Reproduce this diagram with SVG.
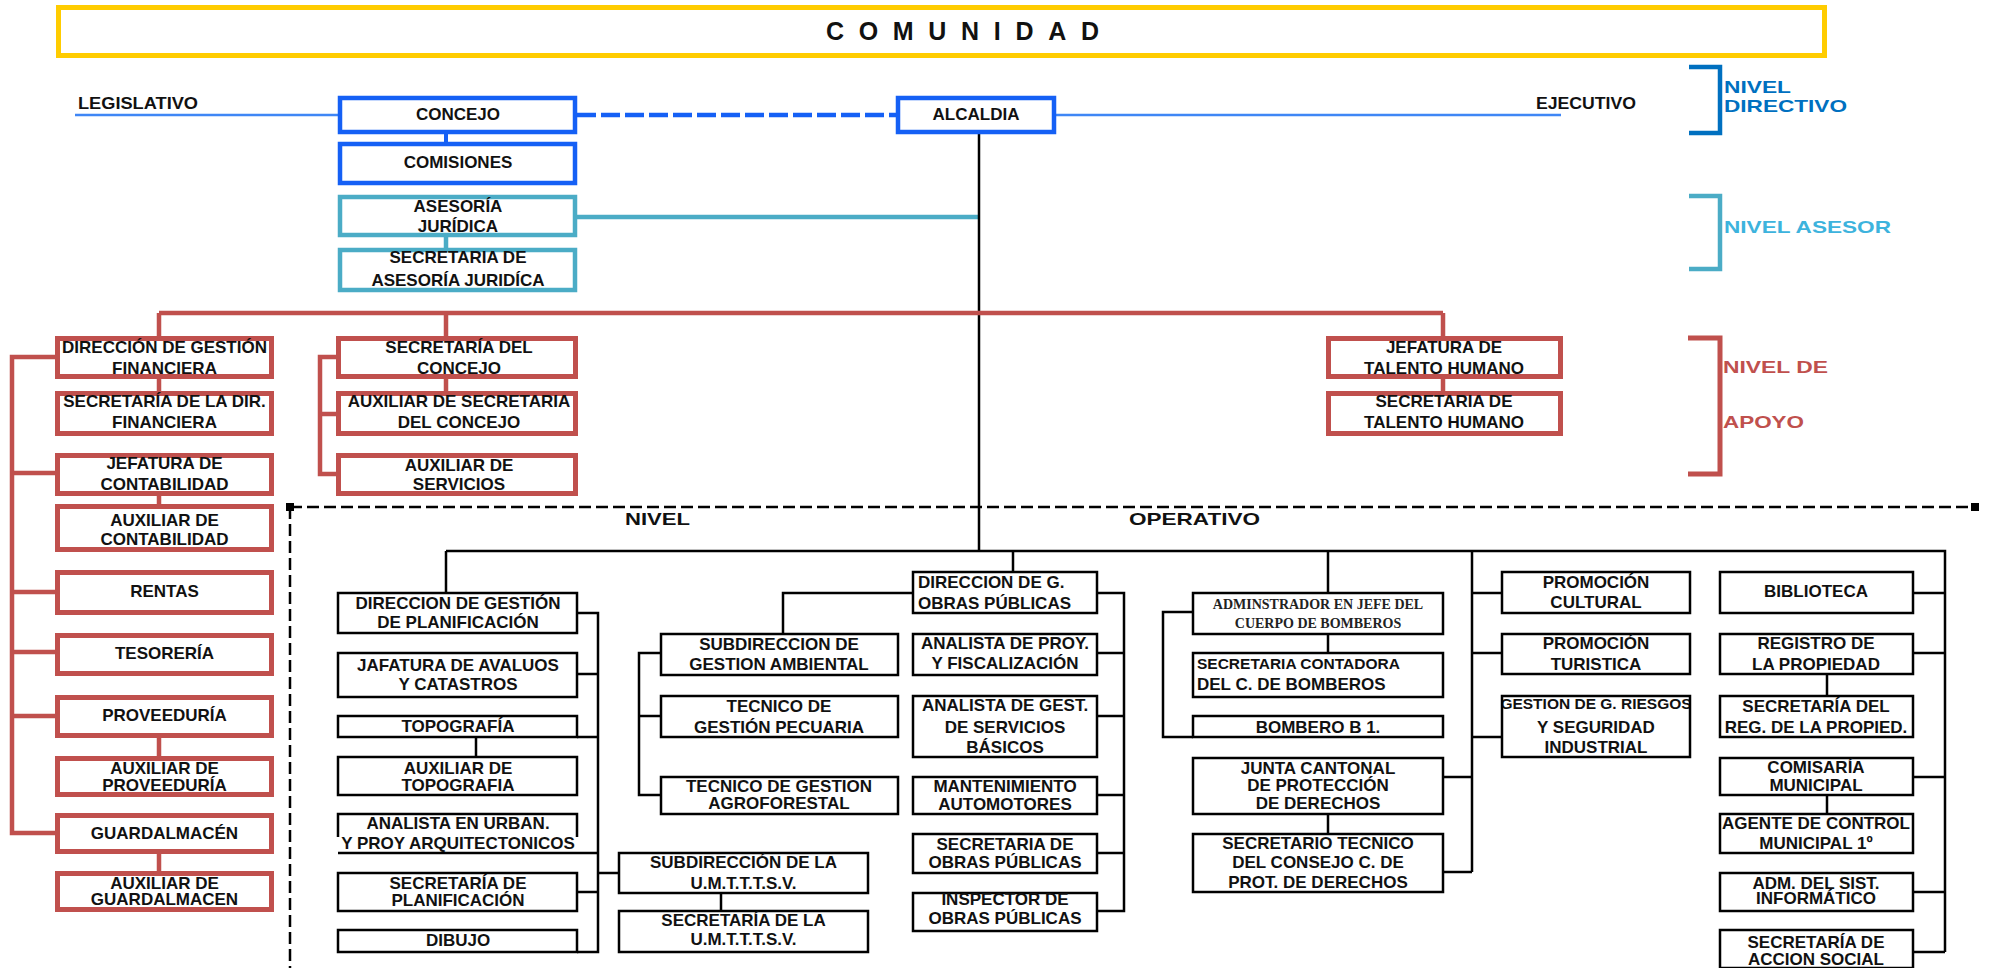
<svg xmlns="http://www.w3.org/2000/svg" width="2000" height="968" viewBox="0 0 2000 968">
<style>
.t{font-family:"Liberation Sans",Arial,sans-serif;font-weight:bold;font-size:17px;fill:#111;text-anchor:middle}
.ts{font-family:"Liberation Serif","Times New Roman",serif;font-weight:bold;font-size:14px;fill:#222;text-anchor:middle}
.st{text-anchor:start}
.bl{fill:#fff;stroke:#1560F5;stroke-width:4.5}
.tl{fill:#fff;stroke:#4BACC6;stroke-width:4.5}
.rb{fill:#fff;stroke:#C0504D;stroke-width:5}
.bb{fill:#fff;stroke:#000;stroke-width:2.5}
.cr{stroke:#C0504D;stroke-width:4.5;fill:none}
.ck{stroke:#000;stroke-width:2.5;fill:none}
.lv{font-family:"Liberation Sans",Arial,sans-serif;font-weight:bold;font-size:17px}
</style>
<defs>
<clipPath id="clipRiesgo"><rect x="1503" y="697" width="186" height="59"/></clipPath>
</defs>
<rect width="2000" height="968" fill="#fff"/>

<g id="comunidad">
<rect x="58.5" y="7.5" width="1766" height="48" fill="#fff" stroke="#FFCC00" stroke-width="5"/>
<text x="826" y="40" class="t st" style="font-size:25px" textLength="273" lengthAdjust="spacing">COMUNIDAD</text>
</g>

<g id="connectors">
<path d="M75,115 H338 M1056,115 H1561" stroke="#3F86F5" stroke-width="2.5" fill="none"/>
<path d="M577,115 H896" stroke="#1560F5" stroke-width="4.5" stroke-dasharray="19,5" fill="none"/>
<path d="M446,134 V142" stroke="#1560F5" stroke-width="4" fill="none"/>
<path d="M446,237 V248 M577,217 H979" stroke="#4BACC6" stroke-width="4.5" fill="none"/>
<path d="M979,134 V551" class="ck" stroke-width="2"/>
<path class="cr" d="M159,313 H1443 M159,313 V336 M446,313 V336 M1443,313 V336 M159,379 V391 M159,496 V504 M159,738 V756 M159,854 V871 M57,357 H12 V833 H57 M12,473 H57 M12,592 H57 M12,652 H57 M12,716 H57 M446,379 V391 M336,357 H320 V474 H336 M320,414 H336 M1443,379 V391"/>
<path d="M290,507 H1975 M290,507 V968" stroke="#000" stroke-width="2.5" stroke-dasharray="12,5" fill="none"/>
<rect x="286" y="503" width="8" height="8" fill="#000"/>
<rect x="1971" y="503" width="8" height="8" fill="#000"/>
<path class="ck" d="M446,551 H1945 V952 M446,551 V593 M1013,551 V572 M1328,551 V593 M1472,551 V872 M577,613 H598 V952 H577 M577,674 H598 M577,737 H598 M577,853 H598 M577,892 H598 M598,873 H619 M476,737 V757 M721,893 V911 M913,593 H783 V634 M1097,593 H1124 V911 H1097 M1097,653 H1124 M1097,716 H1124 M1097,795 H1124 M1097,853 H1124 M661,653 H639 V795 H661 M639,716 H661 M1193,612 H1163 V737 H1193 M1328,634 V653 M1328,814 V834 M1443,777 H1472 M1443,872 H1472 M1472,593 H1502 M1472,653 H1502 M1472,737 H1502 M1913,593 H1945 M1913,653 H1945 M1913,777 H1945 M1913,892 H1945 M1913,952 H1945 M1827,674 V696 M1827,795 V814"/>
</g>

<g id="labels">
<text x="78" y="109" class="lv" style="font-size:16px;fill:#111" textLength="120" lengthAdjust="spacingAndGlyphs">LEGISLATIVO</text>
<text x="1536" y="109" class="lv" style="font-size:16px;fill:#111" textLength="100" lengthAdjust="spacingAndGlyphs">EJECUTIVO</text>
<text x="625" y="525" class="lv" style="fill:#111" textLength="65" lengthAdjust="spacingAndGlyphs">NIVEL</text>
<text x="1129" y="525" class="lv" style="fill:#111" textLength="131" lengthAdjust="spacingAndGlyphs">OPERATIVO</text>
</g>

<g id="nivel-directivo">
<path d="M1689,67 H1720 V133 H1689" stroke="#0070C0" stroke-width="4.5" fill="none"/>
<text x="1724" y="93" class="lv" fill="#0070C0" textLength="67" lengthAdjust="spacingAndGlyphs">NIVEL</text>
<text x="1724" y="112" class="lv" fill="#0070C0" textLength="123" lengthAdjust="spacingAndGlyphs">DIRECTIVO</text>
</g>
<g id="nivel-asesor">
<path d="M1689,196 H1720 V269 H1689" stroke="#4BACC6" stroke-width="4.5" fill="none"/>
<text x="1724" y="233" class="lv" fill="#3DB3DD" textLength="167" lengthAdjust="spacingAndGlyphs">NIVEL ASESOR</text>
</g>
<g id="nivel-apoyo">
<path d="M1688,338 H1720 V474 H1688" stroke="#C0504D" stroke-width="5" fill="none"/>
<text x="1723" y="373" class="lv" fill="#C0504D" textLength="105" lengthAdjust="spacingAndGlyphs">NIVEL DE</text>
<text x="1723" y="428" class="lv" fill="#C0504D" textLength="81" lengthAdjust="spacingAndGlyphs">APOYO</text>
</g>

<g id="concejo"><rect x="340" y="98" width="235" height="34" class="bl"/><text x="458" y="120" class="t">CONCEJO</text></g>
<g id="comisiones"><rect x="340" y="144" width="235" height="39" class="bl"/><text x="458" y="168" class="t">COMISIONES</text></g>
<g id="alcaldia"><rect x="898" y="98" width="156" height="34" class="bl"/><text x="976" y="120" class="t">ALCALDIA</text></g>
<g id="asesoria"><rect x="340" y="197" width="235" height="38" class="tl"/><text x="458" y="212" class="t">ASESORÍA</text><text x="458" y="232" class="t">JURÍDICA</text></g>
<g id="secretaria-asesoria"><rect x="340" y="250" width="235" height="40" class="tl"/><text x="458" y="263" class="t">SECRETARIA DE</text><text x="458" y="286" class="t">ASESORÍA JURIDÍCA</text></g>

<g id="dir-financiera"><rect x="57.5" y="338.5" width="214" height="38" class="rb"/><text x="164.5" y="353" class="t">DIRECCIÓN DE GESTIÓN</text><text x="164.5" y="374" class="t">FINANCIERA</text></g>
<g id="sec-dir-financiera"><rect x="57.5" y="393.5" width="214" height="40" class="rb"/><text x="164.5" y="407" class="t">SECRETARÍA DE LA DIR.</text><text x="164.5" y="428" class="t">FINANCIERA</text></g>
<g id="jef-contabilidad"><rect x="57.5" y="455.5" width="214" height="38" class="rb"/><text x="164.5" y="469" class="t">JEFATURA DE</text><text x="164.5" y="490" class="t">CONTABILIDAD</text></g>
<g id="aux-contabilidad"><rect x="57.5" y="506.5" width="214" height="43" class="rb"/><text x="164.5" y="526" class="t">AUXILIAR DE</text><text x="164.5" y="545" class="t">CONTABILIDAD</text></g>
<g id="rentas"><rect x="57.5" y="572.5" width="214" height="40" class="rb"/><text x="164.5" y="597" class="t">RENTAS</text></g>
<g id="tesoreria"><rect x="57.5" y="635.5" width="214" height="38" class="rb"/><text x="164.5" y="659" class="t">TESORERÍA</text></g>
<g id="proveeduria"><rect x="57.5" y="697.5" width="214" height="38" class="rb"/><text x="164.5" y="721" class="t">PROVEEDURÍA</text></g>
<g id="aux-proveeduria"><rect x="57.5" y="758.5" width="214" height="36" class="rb"/><text x="164.5" y="774" class="t">AUXILIAR DE</text><text x="164.5" y="791" class="t">PROVEEDURÍA</text></g>
<g id="guardalmacen"><rect x="57.5" y="815.5" width="214" height="36" class="rb"/><text x="164.5" y="839" class="t">GUARDALMACÉN</text></g>
<g id="aux-guardalmacen"><rect x="57.5" y="873.5" width="214" height="36" class="rb"/><text x="164.5" y="889" class="t">AUXILIAR DE</text><text x="164.5" y="905" class="t">GUARDALMACEN</text></g>

<g id="sec-concejo"><rect x="338.5" y="338.5" width="237" height="38" class="rb"/><text x="459" y="353" class="t">SECRETARÍA DEL</text><text x="459" y="374" class="t">CONCEJO</text></g>
<g id="aux-sec-concejo"><rect x="338.5" y="393.5" width="237" height="40" class="rb"/><text x="459" y="407" class="t">AUXILIAR DE SECRETARIA</text><text x="459" y="428" class="t">DEL CONCEJO</text></g>
<g id="aux-servicios"><rect x="338.5" y="455.5" width="237" height="38" class="rb"/><text x="459" y="471" class="t">AUXILIAR DE</text><text x="459" y="490" class="t">SERVICIOS</text></g>

<g id="jef-talento"><rect x="1328.5" y="338.5" width="232" height="38" class="rb"/><text x="1444" y="353" class="t">JEFATURA DE</text><text x="1444" y="374" class="t">TALENTO HUMANO</text></g>
<g id="sec-talento"><rect x="1328.5" y="393.5" width="232" height="40" class="rb"/><text x="1444" y="407" class="t">SECRETARIA DE</text><text x="1444" y="428" class="t">TALENTO HUMANO</text></g>

<g id="dir-planificacion"><rect x="338" y="593" width="239" height="40" class="bb"/><text x="458" y="609" class="t">DIRECCION DE GESTIÓN</text><text x="458" y="628" class="t">DE PLANIFICACIÓN</text></g>
<g id="avaluos"><rect x="338" y="653" width="239" height="44" class="bb"/><text x="458" y="671" class="t">JAFATURA DE AVALUOS</text><text x="458" y="690" class="t">Y CATASTROS</text></g>
<g id="topografia"><rect x="338" y="716" width="239" height="21" class="bb"/><text x="458" y="732" class="t">TOPOGRAFÍA</text></g>
<g id="aux-topografia"><rect x="338" y="757" width="239" height="38" class="bb"/><text x="458" y="774" class="t">AUXILIAR DE</text><text x="458" y="791" class="t">TOPOGRAFIA</text></g>
<g id="analista-urban"><path d="M338,837 V814 H577 V837 M338,853 H577" class="ck"/><text x="458" y="829" class="t">ANALISTA EN URBAN.</text><text x="458" y="849" class="t">Y PROY ARQUITECTONICOS</text></g>
<g id="sec-planificacion"><rect x="338" y="873" width="239" height="38" class="bb"/><text x="458" y="889" class="t">SECRETARÍA DE</text><text x="458" y="906" class="t">PLANIFICACIÓN</text></g>
<g id="dibujo"><rect x="338" y="930" width="239" height="22" class="bb"/><text x="458" y="946" class="t">DIBUJO</text></g>

<g id="subdir-umtttsv"><rect x="619" y="853" width="249" height="40" class="bb"/><text x="743.5" y="868" class="t">SUBDIRECCIÓN DE LA</text><text x="743.5" y="889" class="t">U.M.T.T.T.S.V.</text></g>
<g id="sec-umtttsv"><rect x="619" y="911" width="249" height="41" class="bb"/><text x="743.5" y="926" class="t">SECRETARÍA DE LA</text><text x="743.5" y="945" class="t">U.M.T.T.T.S.V.</text></g>

<g id="subdir-ambiental"><rect x="661" y="634" width="237" height="41" class="bb"/><text x="779" y="650" class="t">SUBDIRECCION DE</text><text x="779" y="670" class="t">GESTION AMBIENTAL</text></g>
<g id="tec-pecuaria"><rect x="661" y="696" width="237" height="41" class="bb"/><text x="779" y="712" class="t">TECNICO DE</text><text x="779" y="733" class="t">GESTIÓN PECUARIA</text></g>
<g id="tec-agroforestal"><rect x="661" y="777" width="237" height="37" class="bb"/><text x="779" y="792" class="t">TECNICO DE GESTION</text><text x="779" y="809" class="t">AGROFORESTAL</text></g>

<g id="dir-obras"><rect x="913" y="572" width="184" height="41" class="bb"/><text x="918" y="588" class="t st">DIRECCION DE G.</text><text x="918" y="609" class="t st">OBRAS PÚBLICAS</text></g>
<g id="analista-proy"><rect x="913" y="634" width="184" height="41" class="bb"/><text x="1005" y="649" class="t">ANALISTA DE PROY.</text><text x="1005" y="669" class="t">Y FISCALIZACIÓN</text></g>
<g id="analista-gest"><rect x="913" y="696" width="184" height="61" class="bb"/><text x="1005" y="711" class="t">ANALISTA DE GEST.</text><text x="1005" y="733" class="t">DE SERVICIOS</text><text x="1005" y="753" class="t">BÁSICOS</text></g>
<g id="mantenimiento"><rect x="913" y="777" width="184" height="37" class="bb"/><text x="1005" y="792" class="t">MANTENIMIENTO</text><text x="1005" y="810" class="t">AUTOMOTORES</text></g>
<g id="sec-obras"><rect x="913" y="834" width="184" height="39" class="bb"/><text x="1005" y="850" class="t">SECRETARIA DE</text><text x="1005" y="868" class="t">OBRAS PÚBLICAS</text></g>
<g id="inspector-obras"><rect x="913" y="893" width="184" height="38" class="bb"/><text x="1005" y="905" class="t">INSPECTOR DE</text><text x="1005" y="924" class="t">OBRAS PÚBLICAS</text></g>

<g id="admin-bomberos"><rect x="1193" y="593" width="250" height="41" class="bb"/><text x="1318" y="609" class="ts">ADMINSTRADOR EN JEFE DEL</text><text x="1318" y="628" class="ts">CUERPO DE BOMBEROS</text></g>
<g id="sec-bomberos"><rect x="1193" y="653" width="250" height="44" class="bb"/><text x="1197" y="669" class="t st" style="font-size:15.5px">SECRETARIA CONTADORA</text><text x="1197" y="690" class="t st">DEL C. DE BOMBEROS</text></g>
<g id="bombero"><rect x="1193" y="716" width="250" height="21" class="bb"/><text x="1318" y="733" class="t">BOMBERO B 1.</text></g>
<g id="junta-cantonal"><rect x="1193" y="758" width="250" height="56" class="bb"/><text x="1318" y="774" class="t">JUNTA CANTONAL</text><text x="1318" y="791" class="t">DE PROTECCIÓN</text><text x="1318" y="809" class="t">DE DERECHOS</text></g>
<g id="sec-tecnico"><rect x="1193" y="834" width="250" height="58" class="bb"/><text x="1318" y="849" class="t">SECRETARIO TECNICO</text><text x="1318" y="868" class="t">DEL CONSEJO C. DE</text><text x="1318" y="888" class="t">PROT. DE DERECHOS</text></g>

<g id="prom-cultural"><rect x="1502" y="572" width="188" height="41" class="bb"/><text x="1596" y="588" class="t">PROMOCIÓN</text><text x="1596" y="608" class="t">CULTURAL</text></g>
<g id="prom-turistica"><rect x="1502" y="634" width="188" height="40" class="bb"/><text x="1596" y="649" class="t">PROMOCIÓN</text><text x="1596" y="670" class="t">TURISTICA</text></g>
<g id="gestion-riesgos"><rect x="1502" y="696" width="188" height="61" class="bb"/><text x="1596" y="709" class="t" style="font-size:15.5px" clip-path="url(#clipRiesgo)">GESTION DE G. RIESGOS</text><text x="1596" y="733" class="t">Y SEGURIDAD</text><text x="1596" y="753" class="t">INDUSTRIAL</text></g>

<g id="biblioteca"><rect x="1720" y="572" width="193" height="41" class="bb"/><text x="1816" y="597" class="t">BIBLIOTECA</text></g>
<g id="registro"><rect x="1720" y="634" width="193" height="40" class="bb"/><text x="1816" y="649" class="t">REGISTRO DE</text><text x="1816" y="670" class="t">LA PROPIEDAD</text></g>
<g id="sec-registro"><rect x="1720" y="696" width="193" height="41" class="bb"/><text x="1816" y="712" class="t">SECRETARÍA DEL</text><text x="1816" y="733" class="t">REG. DE LA PROPIED.</text></g>
<g id="comisaria"><rect x="1720" y="758" width="193" height="37" class="bb"/><text x="1816" y="773" class="t">COMISARÍA</text><text x="1816" y="791" class="t">MUNICIPAL</text></g>
<g id="agente-control"><rect x="1720" y="814" width="193" height="39" class="bb"/><text x="1816" y="829" class="t">AGENTE DE CONTROL</text><text x="1816" y="849" class="t">MUNICIPAL 1º</text></g>
<g id="adm-sistema"><rect x="1720" y="873" width="193" height="38" class="bb"/><text x="1816" y="889" class="t">ADM. DEL SIST.</text><text x="1816" y="904" class="t">INFORMÁTICO</text></g>
<g id="accion-social"><rect x="1720" y="930" width="193" height="38" class="bb"/><text x="1816" y="948" class="t">SECRETARÍA DE</text><text x="1816" y="965" class="t">ACCION SOCIAL</text></g>
</svg>
